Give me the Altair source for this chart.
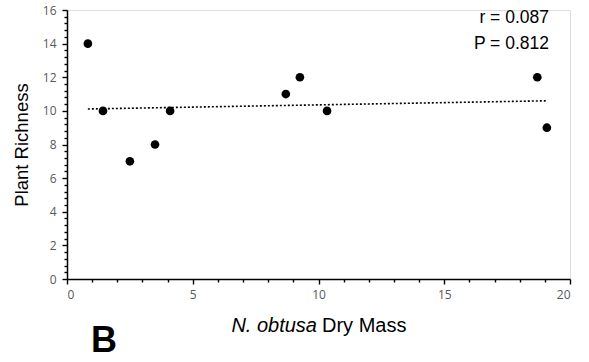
import altair as alt
import pandas as pd

# data
dry_mass = [0.83, 1.43, 2.5, 3.5, 4.1, 8.7, 9.26, 10.34, 18.7, 19.08]
richness = [14, 10, 7, 8, 10, 11, 12, 10, 12, 9]

x_ticks = list(range(0, 21))                       # major every 5, minor every 1
y_ticks = [round(i * 0.4, 1) for i in range(0, 41)]  # major every 2, minor every 0.4

stats_lines = ["r = 0.087", "P = 0.812"]

df = pd.DataFrame({"x": dry_mass, "y": richness})

xscale = alt.Scale(domain=[0, 20], nice=False, zero=False)
yscale = alt.Scale(domain=[0, 16], nice=False, zero=False)

label_font = "Open Sans"
title_font = "Liberation Sans"

x_major_test = "datum.value % 5 === 0"
y_major_test = "abs(datum.value / 2 - round(datum.value / 2)) < 0.001"

x_axis = alt.Axis(
    values=x_ticks,
    labelExpr=x_major_test + " ? format(datum.value, 'd') : ''",
    tickSize={"condition": {"test": x_major_test, "value": 5}, "value": 3},
    tickColor="black", domainColor="black", domainWidth=1.5, tickWidth=1.4,
    labelFont=label_font, labelFontSize=12, labelColor="#595959", labelPadding=5,
    labelOverlap=False, grid=False, title=None, ticks=True,
)
y_axis = alt.Axis(
    values=y_ticks,
    labelExpr=y_major_test + " ? format(datum.value, 'd') : ''",
    tickSize={"condition": {"test": y_major_test, "value": 5}, "value": 3},
    tickColor="black", domainColor="black", domainWidth=1.5, tickWidth=1.4,
    labelFont=label_font, labelFontSize=12, labelColor="#595959", labelPadding=6,
    labelOverlap=False, grid=False, ticks=True,
    title="Plant Richness", titleFont=title_font, titleFontSize=18.5,
    titleFontWeight="normal", titleColor="black", titlePadding=11,
)

base = alt.Chart(df)

points = base.mark_circle(size=75, color="black", opacity=1).encode(
    x=alt.X("x:Q", scale=xscale, axis=x_axis),
    y=alt.Y("y:Q", scale=yscale, axis=y_axis),
)

trend = base.transform_regression("x", "y").mark_line(
    color="black", strokeDash=[2, 2], strokeWidth=1.6
).encode(
    x=alt.X("x:Q", scale=xscale, axis=x_axis),
    y=alt.Y("y:Q", scale=yscale, axis=y_axis),
)

stat_r = alt.Chart(pd.DataFrame({"t": [stats_lines[0]]})).mark_text(
    align="right", baseline="alphabetic", font=title_font, fontSize=17.5, color="black"
).encode(text="t:N", x=alt.value(482), y=alt.value(13))

stat_p = alt.Chart(pd.DataFrame({"t": [stats_lines[1]]})).mark_text(
    align="right", baseline="alphabetic", font=title_font, fontSize=17.5, color="black"
).encode(text="t:N", x=alt.value(482), y=alt.value(39))

xt_italic = alt.Chart(pd.DataFrame({"t": ["N. obtusa"]})).mark_text(
    align="right", baseline="alphabetic", font=title_font, fontSize=20,
    fontStyle="italic", color="black"
).encode(text="t:N", x=alt.value(250), y=alt.value(322))

xt_normal = alt.Chart(pd.DataFrame({"t": ["Dry Mass"]})).mark_text(
    align="left", baseline="alphabetic", font=title_font, fontSize=20, color="black"
).encode(text="t:N", x=alt.value(255), y=alt.value(322))

panel = alt.Chart(pd.DataFrame({"t": ["B"]})).mark_text(
    align="left", baseline="alphabetic", font=title_font, fontSize=36,
    fontWeight="bold", color="black"
).encode(text="t:N", x=alt.value(24), y=alt.value(342))

chart = alt.layer(
    points, trend, stat_r, stat_p, xt_italic, xt_normal, panel
).properties(
    width=503, height=269,
    autosize=alt.AutoSizeParams(type="none"),
    padding={"left": 67, "top": 10, "right": 19, "bottom": 83},
).configure_view(stroke=None).configure(background="white")

chart.save("out.html", embed_options={"renderer": "svg", "actions": False})
